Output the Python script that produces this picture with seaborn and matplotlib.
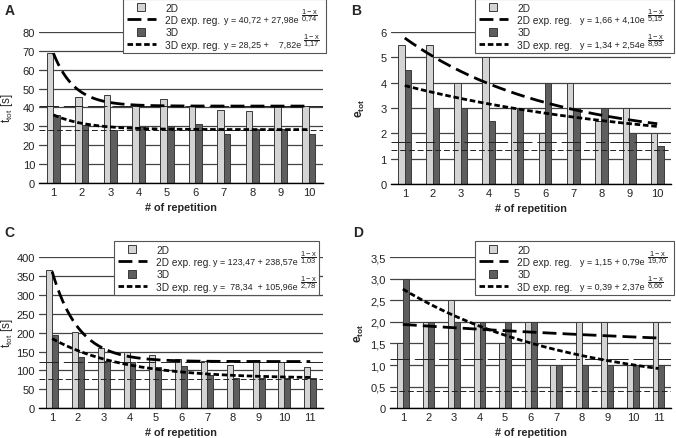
import numpy as np
import pandas as pd
import matplotlib.pyplot as plt
import seaborn as sns
from matplotlib.lines import Line2D

# panel A: total time, 10 repetitions
reps_a = list(range(1, 11))
a_2d = [69, 45.5, 46.5, 40.5, 44.5, 41, 38.5, 38, 40, 41]
a_3d = [36, 30.5, 28, 29.5, 30, 31, 26, 28.5, 28.5, 26]
fit_a_2d = (40.72, 27.98, 0.74)
fit_a_3d = (28.25, 7.82, 1.17)

# panel B: errors, 10 repetitions
reps_b = list(range(1, 11))
b_2d = [5.5, 5.5, 4, 5, 3, 2, 4, 2.5, 3, 2]
b_3d = [4.5, 3, 3, 2.5, 3, 4, 3, 3, 2, 1.5]
fit_b_2d = (1.66, 4.10, 5.15)
fit_b_3d = (1.34, 2.54, 8.93)

# panel C: total time, 11 repetitions
reps_c = list(range(1, 12))
c_2d = [365, 202, 160, 150, 140, 131, 125, 113, 127, 121, 108]
c_3d = [193, 135, 125, 121, 110, 111, 87, 80, 80, 80, 80]
fit_c_2d = (123.47, 238.57, 1.03)
fit_c_3d = (78.34, 105.96, 2.78)

# panel D: errors, 11 repetitions
reps_d = list(range(1, 12))
d_2d = [1.5, 2, 2.5, 2, 1.5, 2, 1, 2, 2, 1, 2]
d_3d = [3, 2, 2, 2, 2, 2, 1, 1, 1, 1, 1]
fit_d_2d = (1.15, 0.79, 19.70)
fit_d_3d = (0.39, 2.37, 6.66)

sns.set_theme(style='white')
plt.rcParams['font.family'] = ['Liberation Sans', 'DejaVu Sans']
plt.rcParams['mathtext.fontset'] = 'custom'
plt.rcParams['mathtext.rm'] = 'Liberation Sans'
plt.rcParams['mathtext.it'] = 'Liberation Sans'
plt.rcParams['mathtext.bf'] = 'Liberation Sans:bold'

W, H = 676, 439
light = '#d4d4d4'
dark = '#5e5e5e'
edge = '#3a3a3a'


def num(v):
    return ('%.2f' % v).replace('.', ',')


def eq(fit, fmt='y = {a} + {b}e'):
    return fmt.format(a=num(fit[0]), b=num(fit[1]))


def frac(fit):
    return r'$\dfrac{1 - x}{%s}$' % num(fit[2]).replace(',', '{,}')


def panel(ax, reps, v2d, v3d, fit2d, fit3d, ymax, ystep, yfmt, ylabel, ylab_weight, box):
    df = pd.DataFrame({
        'rep': [str(r) for r in reps] * 2,
        'val': v2d + v3d,
        'grp': ['2D'] * len(reps) + ['3D'] * len(reps),
    })
    ax.set_axisbelow(True)
    ax.yaxis.grid(True, color='#444444', linewidth=0.9)
    sns.barplot(data=df, x='rep', y='val', hue='grp', hue_order=['2D', '3D'],
                palette=[light, dark], width=0.46, edgecolor=edge, linewidth=0.7,
                legend=False, ax=ax)

    xs = np.linspace(1, len(reps), 200)
    a, b, c = fit2d
    ax.plot(xs - 1, a + b * np.exp((1 - xs) / c), color='black', lw=2.0,
            dashes=(5, 2.2), zorder=5)
    ax.axhline(a, color='#222222', lw=0.7, dashes=(20, 5), zorder=4)
    a, b, c = fit3d
    ax.plot(xs - 1, a + b * np.exp((1 - xs) / c), color='black', lw=2.0,
            dashes=(2, 1), zorder=5)
    ax.axhline(a, color='#222222', lw=0.7, dashes=(6, 3), zorder=4)

    ax.set_xlim(-0.5, len(reps) - 0.5)
    ax.set_ylim(0, ymax)
    ticks = np.arange(0, ymax + ystep / 2, ystep)
    ax.set_yticks(ticks)
    ax.set_yticklabels([yfmt(t) for t in ticks])
    ax.tick_params(axis='both', length=0, labelsize=8, colors='#222222', pad=3)
    for s in ['left', 'right', 'top']:
        ax.spines[s].set_visible(False)
    ax.spines['bottom'].set_color('black')
    ax.spines['bottom'].set_linewidth(1.0)
    ax.set_xlabel('# of repetition', fontsize=7.8, fontweight='bold', labelpad=3.5)
    ax.set_ylabel(ylabel, fontsize=8.5, fontweight=ylab_weight)
    ax.yaxis.set_label_coords(-0.084, 0.5)

    handles = [
        Line2D([], [], ls='none', marker='s', markersize=5.5, markerfacecolor=light,
               markeredgecolor=edge, markeredgewidth=0.7),
        Line2D([], [], color='black', lw=2.0, dashes=(5, 2.2)),
        Line2D([], [], ls='none', marker='s', markersize=5.5, markerfacecolor=dark,
               markeredgecolor=edge, markeredgewidth=0.7),
        Line2D([], [], color='black', lw=2.0, dashes=(2, 1)),
    ]
    x0, x1, y0, y1 = box
    leg = ax.legend(handles, ['2D', '2D exp. reg.', '3D', '3D exp. reg.'],
                    loc='upper left', mode='expand',
                    bbox_to_anchor=(x0 / W, 1 - y1 / H, (x1 - x0) / W, (y1 - y0) / H),
                    bbox_transform=fig.transFigure,
                    fontsize=7.3, frameon=True, fancybox=False, framealpha=1,
                    edgecolor='#555555', borderpad=0.35, labelspacing=0.24,
                    handlelength=2.9, handletextpad=0.9, borderaxespad=0,
                    numpoints=1)
    leg.get_frame().set_linewidth(0.8)
    leg.set_zorder(10)
    return leg


fig = plt.figure(figsize=(6.76, 4.39), dpi=100)
ax_a = fig.add_axes([0.058, 0.581, 0.42, 0.344])
ax_b = fig.add_axes([0.578, 0.579, 0.415, 0.346])
ax_c = fig.add_axes([0.058, 0.068, 0.42, 0.344])
ax_d = fig.add_axes([0.577, 0.068, 0.416, 0.344])

int_fmt = lambda t: '%d' % t
dec_fmt = lambda t: '0' if t == 0 else ('%.1f' % t).replace('.', ',')

legs = []
legs.append(panel(ax_a, reps_a, a_2d, a_3d, fit_a_2d, fit_a_3d, 80, 10, int_fmt,
                  r'$\mathregular{t_{tot}}$ [s]', 'normal', (123, 326, 0, 55)))
legs.append(panel(ax_b, reps_b, b_2d, b_3d, fit_b_2d, fit_b_3d, 6, 1, int_fmt,
                  r'$\mathbf{e_{tot}}$', 'bold', (475, 674, 0, 55)))
legs.append(panel(ax_c, reps_c, c_2d, c_3d, fit_c_2d, fit_c_3d, 400, 50, int_fmt,
                  r'$\mathregular{t_{tot}}$ [s]', 'normal', (114, 319, 242, 294)))
legs.append(panel(ax_d, reps_d, d_2d, d_3d, fit_d_2d, fit_d_3d, 3.5, 0.5, dec_fmt,
                  r'$\mathbf{e_{tot}}$', 'bold', (475, 674, 242, 298)))

# regression equations next to the legend rows
eqs = [
    (224, [(fit_a_2d, eq(fit_a_2d)), (fit_a_3d, eq(fit_a_3d, 'y = {a} +    {b}e'))]),
    (580, [(fit_b_2d, eq(fit_b_2d)), (fit_b_3d, eq(fit_b_3d))]),
    (213, [(fit_c_2d, eq(fit_c_2d)), (fit_c_3d, eq(fit_c_3d, 'y =  {a}  + {b}e'))]),
    (580, [(fit_d_2d, eq(fit_d_2d)), (fit_d_3d, eq(fit_d_3d))]),
]
fig.canvas.draw()
eq_texts = []
for leg, (xe, rows) in zip(legs, eqs):
    texts = leg.get_texts()
    for t, (fit, s) in zip([texts[1], texts[3]], rows):
        bb = t.get_window_extent()
        base = bb.y0 + 2.5
        txt = fig.text(xe / W, base / H, s, fontsize=6.4, va='baseline',
                       ha='left', color='#222222', zorder=11)
        eq_texts.append((txt, fit, base))

fig.canvas.draw()
for txt, fit, base in eq_texts:
    bb = txt.get_window_extent()
    fig.text((bb.x1 + 2) / W, (base + 7) / H, frac(fit), fontsize=5.4,
             va='center', ha='left', color='#222222', zorder=11)

for x, y, t in [(0.007, 0.99, 'A'), (0.519, 0.99, 'B'), (0.007, 0.485, 'C'), (0.522, 0.485, 'D')]:
    fig.text(x, y, t, fontsize=10, fontweight='bold', va='top', ha='left')

fig.savefig('out.png', dpi=100)
